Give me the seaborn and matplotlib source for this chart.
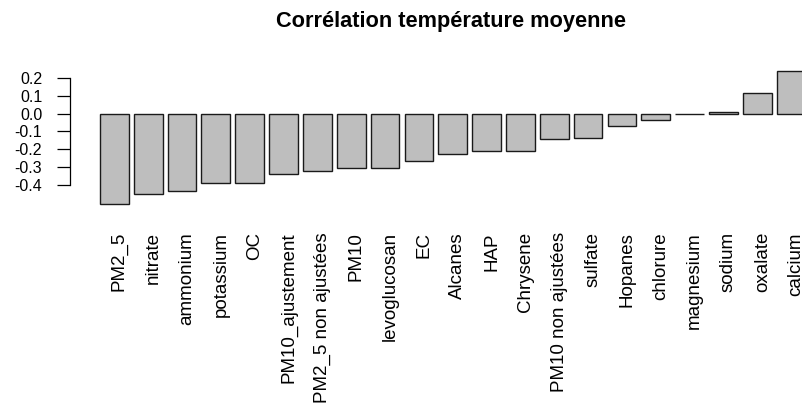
import matplotlib
matplotlib.use("Agg")
import matplotlib.pyplot as plt
import matplotlib.transforms as mtransforms
import seaborn as sns

categories = ["PM2_5", "nitrate", "ammonium", "potassium", "OC", "PM10_ajustement",
              "PM2_5 non ajustées", "PM10", "levoglucosan", "EC", "Alcanes", "HAP",
              "Chrysene", "PM10 non ajustées", "sulfate", "Hopanes", "chlorure",
              "magnesium", "sodium", "oxalate", "calcium"]
values = [-0.506, -0.448, -0.431, -0.388, -0.388, -0.338,
          -0.322, -0.305, -0.305, -0.264, -0.227, -0.208,
          -0.208, -0.143, -0.134, -0.069, -0.035,
          -0.005, 0.007, 0.115, 0.238]
ytick_values = [-0.4, -0.3, -0.2, -0.1, 0.0, 0.1, 0.2]
ytick_labels = ["-0.4", "-0.3", "-0.2", "-0.1", "0.0", "0.1", "0.2"]
title = "Corrélation température moyenne"

sns.set_theme(style="white")
plt.rcParams["font.family"] = ["Liberation Sans", "DejaVu Sans"]
plt.rcParams["axes.unicode_minus"] = False

W, H = 803, 409
fig = plt.figure(figsize=(W / 100, H / 100), dpi=100)
fig.patch.set_facecolor("white")

# axes placement (pixel based)
left_px, right_px = 70.36, 811.4
top_px, bot_px = 66.9, 212.2
ax = fig.add_axes([left_px / W, 1 - bot_px / H, (right_px - left_px) / W, (bot_px - top_px) / H])
ax.set_facecolor("white")

sns.barplot(x=categories, y=values, color="#BEBEBE", saturation=1, width=0.85,
            edgecolor="#1a1a1a", linewidth=1.0, ax=ax, errorbar=None)
for p in ax.patches:
    p.set_clip_on(False)

ax.set_xlim(-1.3, 20.6)
ax.set_ylim(-0.55, 0.26)

for s in ["top", "right", "bottom"]:
    ax.spines[s].set_visible(False)
ax.spines["left"].set_bounds(-0.4, 0.2)
ax.spines["left"].set_color("black")
ax.spines["left"].set_linewidth(0.9)

ax.set_yticks(ytick_values)
ax.set_yticklabels(ytick_labels, fontsize=11.5, color="black")
ax.tick_params(axis="y", left=True, length=9.1, width=0.9, color="black", pad=11.2)

ax.set_xticks(range(len(categories)))
ax.set_xticklabels(categories, rotation=90, fontsize=13.5, color="black")
ax.tick_params(axis="x", bottom=False, length=0, pad=14.3)
offset = mtransforms.ScaledTranslation(5 / 100, 0, fig.dpi_scale_trans)
for lab in ax.get_xticklabels():
    lab.set_transform(lab.get_transform() + offset)

ax.set_xlabel("")
ax.set_ylabel("")
ax.grid(False)

fig.text(451.5 / W, 1 - 27 / H, title, ha="center", va="baseline",
         fontsize=15.7, fontweight="bold", color="black")

fig.savefig("out.png", dpi=100, facecolor="white")
